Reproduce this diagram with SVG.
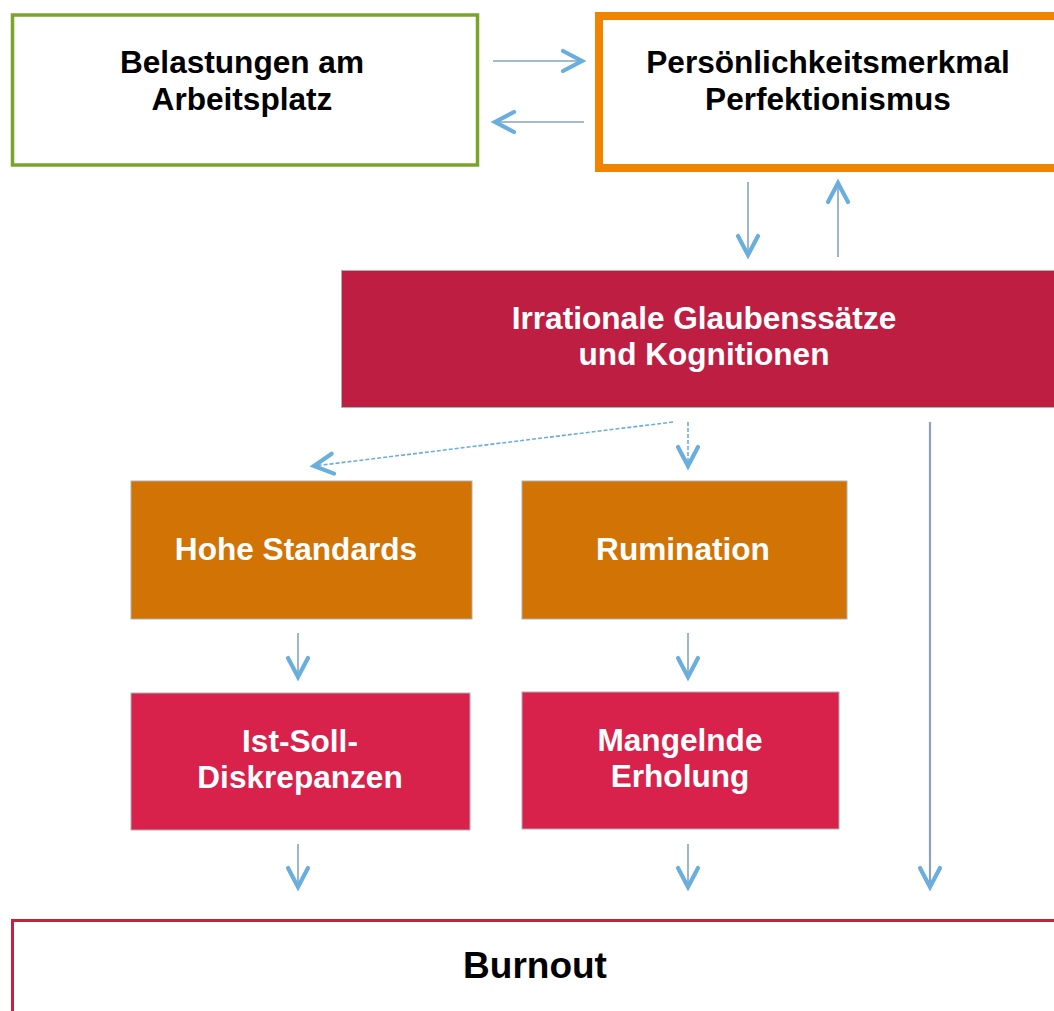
<svg xmlns="http://www.w3.org/2000/svg" width="1054" height="1011" viewBox="0 0 1054 1011">
<defs>
<style>
.t{font-family:"Liberation Sans",Arial,sans-serif;font-weight:bold;font-size:31.6px;text-anchor:middle}
.dk{fill:#000}
.wh{fill:#fff}
.fill{stroke:#b0b0b0;stroke-width:1}
.ln{stroke:#84a4bf;stroke-width:1.6;fill:none}
.dash{stroke:#6aaede;stroke-width:1.6;fill:none;stroke-dasharray:4 2}
</style>
<marker id="ah" viewBox="-26 -15 30 30" refX="0" refY="0" markerWidth="30" markerHeight="30" markerUnits="userSpaceOnUse" orient="auto" overflow="visible">
<path d="M-19 -10 L0 0 L-19 10" fill="none" stroke="#6aaede" stroke-width="4.2" stroke-linecap="round" stroke-linejoin="miter"/>
</marker>
</defs>
<rect width="1054" height="1011" fill="#fff"/>

<g id="node-belastungen">
<rect x="12.5" y="15" width="465" height="150" fill="#fff" stroke="#79a52b" stroke-width="3.5"/>
<text class="t dk" x="242" y="73">Belastungen am</text>
<text class="t dk" x="242" y="110">Arbeitsplatz</text>
</g>

<g id="node-perfektionismus">
<rect x="599" y="16" width="470" height="152" fill="#fff" stroke="#f08300" stroke-width="8"/>
<text class="t dk" x="828" y="73">Persönlichkeitsmerkmal</text>
<text class="t dk" x="828" y="110">Perfektionismus</text>
</g>

<g id="node-irrational">
<rect x="341.5" y="270.5" width="720" height="137" fill="#bd1e42" class="fill"/>
<text class="t wh" x="704" y="329">Irrationale Glaubenssätze</text>
<text class="t wh" x="704" y="365">und Kognitionen</text>
</g>

<g id="node-hohe">
<rect x="131" y="481" width="341" height="138" fill="#d27305" class="fill"/>
<text class="t wh" x="296" y="560">Hohe Standards</text>
</g>

<g id="node-rumination">
<rect x="522" y="481" width="325" height="138" fill="#d27305" class="fill"/>
<text class="t wh" x="683" y="560">Rumination</text>
</g>

<g id="node-istsoll">
<rect x="131" y="693" width="339" height="137" fill="#d8214b" class="fill"/>
<text class="t wh" x="300" y="752">Ist-Soll-</text>
<text class="t wh" x="300" y="788">Diskrepanzen</text>
</g>

<g id="node-erholung">
<rect x="522" y="692" width="317" height="137" fill="#d8214b" class="fill"/>
<text class="t wh" x="680" y="751">Mangelnde</text>
<text class="t wh" x="680" y="787">Erholung</text>
</g>

<g id="node-burnout">
<rect x="12.5" y="920.5" width="1060" height="110" fill="#fff" stroke="#c8203f" stroke-width="3"/>
<text class="t dk" x="535" y="978" style="font-size:37px">Burnout</text>
</g>

<g id="connectors">
<line class="ln" x1="493" y1="61" x2="582" y2="61" marker-end="url(#ah)"/>
<line class="ln" x1="584" y1="122" x2="495" y2="122" marker-end="url(#ah)"/>
<line class="ln" x1="748" y1="182" x2="748" y2="255" marker-end="url(#ah)"/>
<line class="ln" x1="838" y1="257" x2="838" y2="183" marker-end="url(#ah)"/>
<line class="dash" x1="673" y1="422" x2="314" y2="466" marker-end="url(#ah)"/>
<line class="dash" x1="688" y1="422" x2="688" y2="466" marker-end="url(#ah)"/>
<line class="ln" x1="298" y1="633" x2="298" y2="677" marker-end="url(#ah)"/>
<line class="ln" x1="688" y1="633" x2="688" y2="677" marker-end="url(#ah)"/>
<line class="ln" x1="298" y1="844" x2="298" y2="887" marker-end="url(#ah)"/>
<line class="ln" x1="688" y1="844" x2="688" y2="887" marker-end="url(#ah)"/>
<line class="ln" x1="930" y1="422" x2="930" y2="887" style="stroke:#8aa3b6;stroke-width:2.2" marker-end="url(#ah)"/>
</g>
</svg>
